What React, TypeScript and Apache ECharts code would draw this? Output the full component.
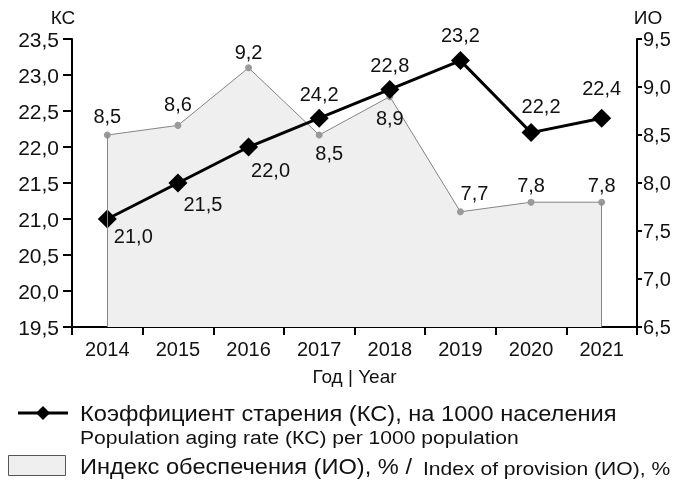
import React, { useEffect, useRef } from "react";
import * as echarts from "echarts";

const years = ["2014", "2015", "2016", "2017", "2018", "2019", "2020", "2021"];
const kcValues = [21.0, 21.5, 22.0, 22.4, 22.8, 23.2, 22.2, 22.4];
const kcLabels = ["21,0", "21,5", "22,0", "24,2", "22,8", "23,2", "22,2", "22,4"];
const ioValues = [8.5, 8.6, 9.2, 8.5, 8.9, 7.7, 7.8, 7.8];

const kcAxis = { name: "КС", min: 19.5, max: 23.5, interval: 0.5 };
const ioAxis = { name: "ИО", min: 6.5, max: 9.5, interval: 0.5 };
const xAxisName = "Год | Year";

const legendKc = "Коэффициент старения (КС), на 1000 населения";
const legendKcEn = "Population aging rate (КС) per 1000 population";
const legendIo = "Индекс обеспечения (ИО), % /";
const legendIoEn = "Index of provision (ИО), %";

// label placement (layout only)
const kcLabelOffsets = [[26, 17], [25, 21], [22, 23], [0, -24], [0, -24], [0, -26], [10, -27], [0, -30]];
const ioLabelOffsets = [[0, -19], [0, -21], [0, -16], [10, 18], [0, 21], [14, -19], [0, -17], [0, -17]];

const FONT = "'Liberation Sans', Arial, sans-serif";
const fmt = (v: number) => v.toFixed(1).replace(".", ",");

export default function App() {
  const ref = useRef<HTMLDivElement>(null);
  useEffect(() => {
    if (!ref.current) return;
    const chart = echarts.init(ref.current, null, { renderer: "svg" });
    const textColor = "#111";
    chart.setOption({
      animation: false,
      textStyle: { fontFamily: FONT, color: textColor },
      grid: { left: 72, right: 51, top: 39, bottom: 154, containLabel: false },
      xAxis: {
        type: "category",
        data: years,
        boundaryGap: true,
        name: xAxisName,
        nameLocation: "middle",
        nameGap: 40,
        nameTextStyle: { fontSize: 19, color: textColor, fontFamily: FONT },
        axisLine: { lineStyle: { color: "#000", width: 2 } },
        axisTick: { show: true, length: 8, lineStyle: { color: "#000", width: 2 } },
        axisLabel: { fontSize: 20, color: textColor, margin: 12, fontFamily: FONT, interval: 0 },
        splitLine: { show: false },
      },
      yAxis: [
        {
          type: "value",
          name: kcAxis.name,
          min: kcAxis.min,
          max: kcAxis.max,
          interval: kcAxis.interval,
          nameLocation: "end",
          nameGap: 12,
          nameTextStyle: { fontSize: 19, color: textColor, fontFamily: FONT, align: "center", padding: [0, 18, 0, 0] },
          axisLine: { show: true, lineStyle: { color: "#000", width: 2 } },
          axisTick: { show: true, length: 9, lineStyle: { color: "#000", width: 2 } },
          axisLabel: { fontSize: 21, color: textColor, margin: 13, fontFamily: FONT, formatter: fmt },
          splitLine: { show: false },
        },
        {
          type: "value",
          name: ioAxis.name,
          min: ioAxis.min,
          max: ioAxis.max,
          interval: ioAxis.interval,
          position: "right",
          nameLocation: "end",
          nameGap: 12,
          nameTextStyle: { fontSize: 19, color: textColor, fontFamily: FONT, align: "center", padding: [0, 0, 0, 22] },
          axisLine: { show: true, lineStyle: { color: "#000", width: 2 } },
          axisTick: { show: true, length: 5, lineStyle: { color: "#000", width: 2 } },
          axisLabel: { fontSize: 20, color: textColor, margin: 6, fontFamily: FONT, formatter: fmt },
          splitLine: { show: false },
        },
      ],
      series: [
        {
          type: "line",
          name: "ИО",
          yAxisIndex: 1,
          data: ioValues.map((v, i) => ({
            value: v,
            label: { offset: ioLabelOffsets[i] },
          })),
          symbol: "circle",
          symbolSize: 7,
          itemStyle: { color: "#9a9a9a" },
          lineStyle: { color: "#858585", width: 1 },
          areaStyle: { color: "#efefef", opacity: 1, origin: "start" },
          label: {
            show: true,
            position: "inside",
            fontSize: 20,
            color: textColor,
            fontFamily: FONT,
            formatter: (p: any) => fmt(p.value),
          },
          markLine: {
            silent: true,
            symbol: "none",
            label: { show: false },
            lineStyle: { color: "#858585", width: 1, type: "solid" },
            data: [
              [{ coord: [years[0], ioValues[0]] }, { coord: [years[0], ioAxis.min] }],
              [
                { coord: [years[years.length - 1], ioValues[ioValues.length - 1]] },
                { coord: [years[years.length - 1], ioAxis.min] },
              ],
            ],
          },
          z: 2,
        },
        {
          type: "line",
          name: "КС",
          yAxisIndex: 0,
          data: kcValues.map((v, i) => ({
            value: v,
            label: { offset: kcLabelOffsets[i] },
          })),
          symbol: "diamond",
          symbolSize: 19,
          itemStyle: { color: "#000" },
          lineStyle: { color: "#000", width: 3 },
          label: {
            show: true,
            position: "inside",
            fontSize: 20,
            color: textColor,
            fontFamily: FONT,
            formatter: (p: any) => kcLabels[p.dataIndex],
          },
          z: 3,
        },
      ],
      graphic: [
        { type: "line", shape: { x1: 18, y1: 413, x2: 68, y2: 413 }, style: { stroke: "#000", lineWidth: 3 } },
        {
          type: "polygon",
          shape: { points: [[43, 406], [50, 413], [43, 420], [36, 413]] },
          style: { fill: "#000" },
        },
        {
          type: "text",
          x: 80,
          y: 413,
          scaleX: 1.075,
          style: { text: legendKc, fontSize: 22, fontFamily: FONT, fill: textColor, verticalAlign: "middle", align: "left" },
        },
        {
          type: "text",
          x: 80,
          y: 437,
          scaleX: 1.11,
          style: { text: legendKcEn, fontSize: 19, fontFamily: FONT, fill: textColor, verticalAlign: "middle", align: "left" },
        },
        {
          type: "rect",
          shape: { x: 8.5, y: 455.5, width: 57, height: 20 },
          style: { fill: "#efefef", stroke: "#555", lineWidth: 1 },
        },
        {
          type: "text",
          x: 80,
          y: 466,
          scaleX: 1.075,
          style: { text: legendIo, fontSize: 22, fontFamily: FONT, fill: textColor, verticalAlign: "middle", align: "left" },
        },
        {
          type: "text",
          x: 423,
          y: 468,
          scaleX: 1.11,
          style: { text: legendIoEn, fontSize: 19, fontFamily: FONT, fill: textColor, verticalAlign: "middle", align: "left" },
        },
      ],
    });
    return () => chart.dispose();
  }, []);
  return <div ref={ref} style={{ position: "fixed", left: 0, top: 0, width: 688, height: 481 }} />;
}
